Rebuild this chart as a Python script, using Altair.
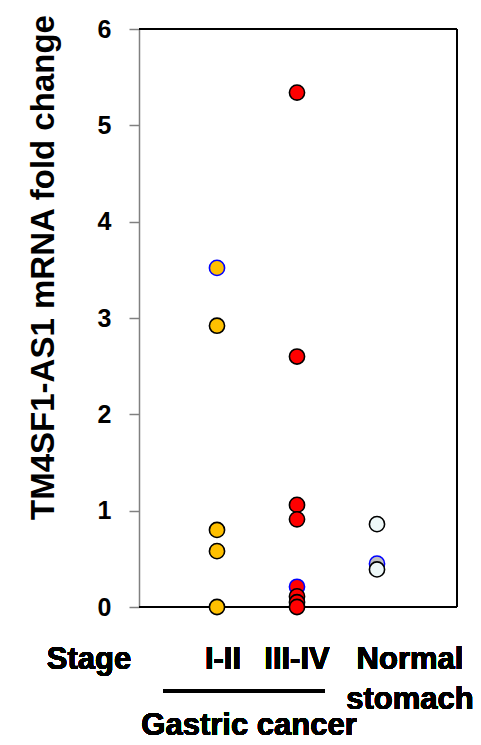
import altair as alt
import pandas as pd

# ---- data ----
categories = ["I-II", "III-IV", "Normal stomach"]
category_pos = [1, 2, 3]

stage12_values = [3.52, 2.92, 0.80, 0.58, 0.00]
stage12_edges = ["#0000FF", "#000000", "#000000", "#000000", "#000000"]
stage12_fill = "#FFC000"

stage34_values = [5.34, 2.60, 1.06, 0.91, 0.21, 0.11, 0.05, 0.00]
stage34_edges = ["#000000", "#000000", "#000000", "#000000", "#0000FF", "#000000", "#000000", "#000000"]
stage34_fill = "#FF0000"

normal_values = [0.86, 0.45, 0.39]
normal_edges = ["#000000", "#0000FF", "#000000"]
normal_fills = ["#EEF8F8", "#C0C0C0", "#EEF8F8"]

y_ticks = [0, 1, 2, 3, 4, 5, 6]

rows = []
for v, e in zip(stage12_values, stage12_edges):
    rows.append({"group": categories[0], "pos": category_pos[0], "value": v, "fill": stage12_fill, "edge": e})
for v, e in zip(stage34_values, stage34_edges):
    rows.append({"group": categories[1], "pos": category_pos[1], "value": v, "fill": stage34_fill, "edge": e})
for v, e, f in zip(normal_values, normal_edges, normal_fills):
    rows.append({"group": categories[2], "pos": category_pos[2], "value": v, "fill": f, "edge": e})
df = pd.DataFrame(rows)
# blue-edged markers are drawn underneath
df["blue"] = (df["edge"] == "#0000FF").astype(int)
df = df.sort_values("blue", ascending=False, kind="stable").reset_index(drop=True)

W, H = 318, 578
FONT = "Liberation Sans"
TXT = 31

x_scale = alt.Scale(domain=[0.025, 4.0], nice=False, zero=False)
y_scale = alt.Scale(domain=[0, 6], nice=False)

top_rule = alt.Chart(df).mark_rule(color="black", strokeWidth=1.5).encode(
    x=alt.value(0), x2=alt.value(W), y=alt.value(0))
right_rule = alt.Chart(df).mark_rule(color="black", strokeWidth=1.5).encode(
    x=alt.value(W), y=alt.value(0), y2=alt.value(H))
bottom_rule = alt.Chart(df).mark_rule(color="black", strokeWidth=1.5).encode(
    x=alt.value(0), x2=alt.value(W), y=alt.value(H))

points = alt.Chart(df).mark_circle(size=230, strokeWidth=1.6, opacity=1).encode(
    x=alt.X("pos:Q", scale=x_scale, axis=None),
    y=alt.Y("value:Q", scale=y_scale, axis=alt.Axis(
        values=y_ticks, grid=False, domainColor="#808080", domainWidth=1.5,
        ticks=True, tickColor="#808080", tickWidth=1.5, tickSize=10,
        labelFont=FONT, labelFontSize=25, labelFontWeight="bold", labelColor="black",
        labelPadding=18, labelAlign="right",
        title="TM4SF1-AS1 mRNA fold change", titleFont=FONT, titleFontSize=33,
        titleFontWeight="bold", titleColor="black", titleAngle=270,
        titleBaseline="alphabetic", titleAlign="center", titleX=-86, titleY=238)),
    fill=alt.Fill("fill:N", scale=None),
    stroke=alt.Stroke("edge:N", scale=None),
)

def label(text, x, y):
    return alt.Chart(df).mark_text(font=FONT, fontSize=TXT, fontWeight="bold", color="black",
                                    align="center", baseline="alphabetic").encode(
        x=alt.value(x), y=alt.value(y), text=alt.value(text))

stage_lbl = label("Stage", -50, 640)
i_lbl = label("I-II", 84, 640)
iii_lbl = label("III-IV", 158, 640)
normal_lbl = label("Normal", 271, 640)
stomach_lbl = label("stomach", 271, 680)
gastric_lbl = label("Gastric cancer", 110, 706)
gastric_line = alt.Chart(df).mark_rule(color="black", strokeWidth=3).encode(
    x=alt.value(24), x2=alt.value(186), y=alt.value(662))

chart = alt.layer(
    top_rule, right_rule, bottom_rule, points,
    stage_lbl, i_lbl, iii_lbl, normal_lbl, stomach_lbl, gastric_lbl, gastric_line
).properties(
    width=W, height=H,
    autosize=alt.AutoSizeParams(type="none"),
    padding={"left": 131, "top": 21, "right": 16, "bottom": 136},
).configure_view(stroke=None)

chart.save("out.html", embed_options={"renderer": "svg", "actions": False})
